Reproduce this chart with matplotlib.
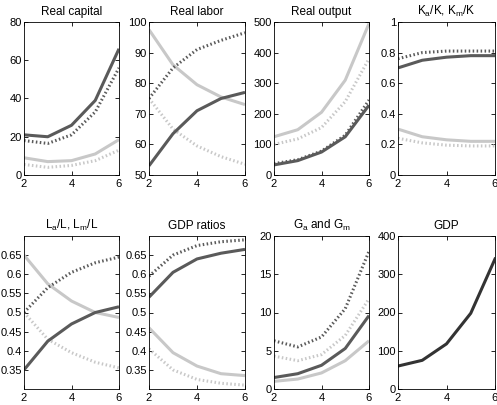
import matplotlib
matplotlib.use("Agg")
import matplotlib.pyplot as plt

plt.rcParams['font.family'] = ['Liberation Sans', 'DejaVu Sans']
plt.rcParams['mathtext.default'] = 'regular'

x = [2, 3, 4, 5, 6]

# Real capital
cap_dark = [21, 20, 26, 39, 66]
cap_dark_dot = [18, 16.5, 21, 33, 56]
cap_light = [9, 7, 7.5, 11, 18.5]
cap_light_dot = [5.5, 4, 5, 7.5, 13]

# Real labor
lab_dark = [53, 63.5, 71, 75, 77]
lab_dark_dot = [75, 85, 91, 94, 96.5]
lab_light = [97.5, 86, 79.5, 75.5, 73]
lab_light_dot = [75, 65, 59.5, 56, 53.5]

# Real output
out_dark = [33, 47, 75, 125, 228]
out_dark_dot = [37, 50, 78, 130, 245]
out_light = [125, 148, 205, 310, 495]
out_light_dot = [100, 118, 155, 240, 380]

# Ka/K, Km/K
kr_dark = [0.70, 0.75, 0.77, 0.78, 0.78]
kr_dark_dot = [0.76, 0.80, 0.81, 0.81, 0.81]
kr_light = [0.30, 0.25, 0.23, 0.22, 0.22]
kr_light_dot = [0.24, 0.21, 0.195, 0.19, 0.19]

# La/L, Lm/L
lr_dark = [0.35, 0.425, 0.47, 0.50, 0.515]
lr_dark_dot = [0.50, 0.565, 0.605, 0.63, 0.645]
lr_light = [0.65, 0.575, 0.53, 0.50, 0.487]
lr_light_dot = [0.50, 0.43, 0.395, 0.37, 0.355]

# GDP ratios
gr_dark = [0.54, 0.605, 0.64, 0.655, 0.665]
gr_dark_dot = [0.595, 0.65, 0.675, 0.685, 0.69]
gr_light = [0.46, 0.395, 0.36, 0.34, 0.335]
gr_light_dot = [0.405, 0.35, 0.325, 0.315, 0.31]

# Ga and Gm
g_dark = [1.5, 2.0, 3.1, 5.3, 9.6]
g_dark_dot = [6.3, 5.5, 6.8, 10.5, 18]
g_light = [1.0, 1.3, 2.1, 3.7, 6.3]
g_light_dot = [4.3, 3.7, 4.5, 7, 11.8]

# GDP
gdp = [60, 75, 118, 198, 340]

DARK = '#5a5a5a'
LIGHT = '#c8c8c8'
LW = 2.2
DOT = (0, (0.5, 0.8))

W, H = 497, 405
fig = plt.figure(figsize=(W / 100, H / 100), dpi=100)

def add_ax(l, r, t, b):
    return fig.add_axes([l / W, 1 - b / H, (r - l) / W, (b - t) / H])

def style(ax, title, ylim, yticks, yfmt=None):
    ax.set_xlim(2, 6)
    ax.set_xticks([2, 4, 6])
    ax.set_ylim(*ylim)
    ax.set_yticks(yticks)
    if yfmt:
        ax.set_yticklabels([yfmt(v) for v in yticks])
    ax.tick_params(direction='in', top=True, right=True, labelsize=8, length=3, width=0.6)
    ax.tick_params(axis='y', pad=1.5)
    ax.tick_params(axis='x', pad=3)
    for s in ax.spines.values():
        s.set_linewidth(0.6)
    ax.set_title(title, fontsize=8.5, pad=5)

def four(ax, dk, dkd, lt, ltd):
    ax.plot(x, lt, color=LIGHT, lw=LW, solid_capstyle='butt')
    ax.plot(x, ltd, color=LIGHT, lw=LW, linestyle=DOT)
    ax.plot(x, dkd, color=DARK, lw=LW, linestyle=DOT)
    ax.plot(x, dk, color=DARK, lw=LW, solid_capstyle='butt')

top_t, top_b = 22, 175
bot_t, bot_b = 236, 389
cols = [(24, 119), (149, 245), (274, 369), (398, 495)]

ax = add_ax(*cols[0], top_t, top_b)
four(ax, cap_dark, cap_dark_dot, cap_light, cap_light_dot)
style(ax, 'Real capital', (0, 80), [0, 20, 40, 60, 80])

ax = add_ax(*cols[1], top_t, top_b)
four(ax, lab_dark, lab_dark_dot, lab_light, lab_light_dot)
style(ax, 'Real labor', (50, 100), [50, 60, 70, 80, 90, 100])

ax = add_ax(*cols[2], top_t, top_b)
four(ax, out_dark, out_dark_dot, out_light, out_light_dot)
style(ax, 'Real output', (0, 500), [0, 100, 200, 300, 400, 500])

ax = add_ax(*cols[3], top_t, top_b)
four(ax, kr_dark, kr_dark_dot, kr_light, kr_light_dot)
style(ax, 'K$_a$/K, K$_m$/K', (0, 1), [0, 0.2, 0.4, 0.6, 0.8, 1],
      lambda v: '%g' % v)

rt = [0.35, 0.4, 0.45, 0.5, 0.55, 0.6, 0.65]
ax = add_ax(*cols[0], bot_t, bot_b)
four(ax, lr_dark, lr_dark_dot, lr_light, lr_light_dot)
style(ax, 'L$_a$/L, L$_m$/L', (0.3, 0.7), rt, lambda v: '%g' % v)

ax = add_ax(*cols[1], bot_t, bot_b)
four(ax, gr_dark, gr_dark_dot, gr_light, gr_light_dot)
style(ax, 'GDP ratios', (0.3, 0.7), rt, lambda v: '%g' % v)

ax = add_ax(*cols[2], bot_t, bot_b)
four(ax, g_dark, g_dark_dot, g_light, g_light_dot)
style(ax, 'G$_a$ and G$_m$', (0, 20), [0, 5, 10, 15, 20])

ax = add_ax(*cols[3], bot_t, bot_b)
ax.plot(x, gdp, color='#333333', lw=LW)
style(ax, 'GDP', (0, 400), [0, 100, 200, 300, 400])

fig.savefig('out.png', dpi=100)
